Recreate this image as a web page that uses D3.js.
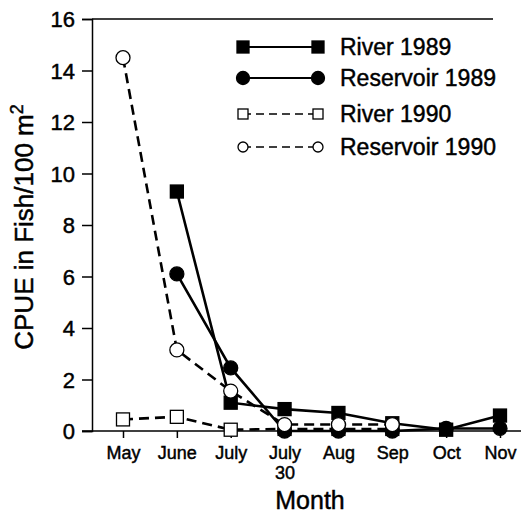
<!DOCTYPE html>
<html>
<head>
<meta charset="utf-8">
<script src="https://cdn.jsdelivr.net/npm/d3@7"></script>
<style>
  body { margin: 0; background: #fff; }
  svg { font-family: "Liberation Sans", Arial, Helvetica, sans-serif; }
  svg text { fill: #000; stroke: #000; stroke-width: 0.45px; }
</style>
</head>
<body>
<div id="chart"></div>
<script>
// Data
const months = ['May', 'June', 'July', 'July 30', 'Aug', 'Sep', 'Oct', 'Nov'];
const yTicks = [0, 2, 4, 6, 8, 10, 12, 14, 16];

const river1989 = [null, 9.3, 1.1, 0.85, 0.7, 0.3, 0.05, 0.6];
const reservoir1989 = [null, 6.1, 2.45, 0.0, 0.0, 0.0, 0.1, 0.1];
const river1990 = [0.45, 0.55, 0.05, 0.08, 0.08, 0.08, null, null];
const reservoir1990 = [14.5, 3.15, 1.55, 0.25, 0.25, 0.25, null, null];

// drawing order: open circles end up on top
const series = [
    { name: 'River 1990', values: river1990, shape: 'square', filled: false, dashed: true },
    { name: 'Reservoir 1989', values: reservoir1989, shape: 'circle', filled: true, dashed: false },
    { name: 'River 1989', values: river1989, shape: 'square', filled: true, dashed: false },
    { name: 'Reservoir 1990', values: reservoir1990, shape: 'circle', filled: false, dashed: true }
];
const legendOrder = ['River 1989', 'Reservoir 1989', 'River 1990', 'Reservoir 1990'];

const width = 521, height = 518;
const margin = { left: 92, top: 19, bottom: 87 };

const svg = d3.select('#chart').append('svg')
    .attr('width', width)
    .attr('height', height);

const x = d3.scalePoint()
    .domain(months)
    .range([123, 500]);

const y = d3.scaleLinear()
    .domain([0, 16])
    .range([height - margin.bottom, margin.top]);

// top frame line
svg.append('line')
    .attr('x1', margin.left).attr('x2', 493)
    .attr('y1', y(16)).attr('y2', y(16))
    .attr('stroke', '#000').attr('stroke-width', 1.5);

const yAxis = d3.axisLeft(y).tickValues(yTicks).tickSize(10).tickPadding(7);
const gy = svg.append('g')
    .attr('transform', 'translate(' + margin.left + ',0)')
    .call(yAxis);
gy.select('.domain').attr('stroke-width', 1.5);
gy.selectAll('.tick line').attr('stroke-width', 1.5);
gy.selectAll('.tick text')
    .attr('font-size', 22)
    .attr('dy', '0.36em');

const xAxis = d3.axisBottom(x).tickSize(7).tickSizeOuter(0);
const gx = svg.append('g')
    .attr('transform', 'translate(0,' + y(0) + ')')
    .call(xAxis);
gx.select('.domain').attr('d', 'M' + (margin.left - 10) + ',0H' + width).attr('stroke-width', 1.5);
gx.selectAll('.tick line').attr('stroke-width', 1.5);
gx.selectAll('.tick text').remove();
gx.selectAll('.tick').each(function(d) {
    const parts = d.split(' ');
    const t = d3.select(this).append('text')
        .attr('font-size', 18)
        .attr('text-anchor', 'middle')
        .attr('y', 28);
    parts.forEach((p, i) => {
        t.append('tspan').attr('x', 0).attr('dy', i === 0 ? 0 : 20).text(p);
    });
});

// axis titles
svg.append('text')
    .attr('transform', 'translate(33,' + 227 + ') rotate(-90)')
    .attr('text-anchor', 'middle')
    .attr('font-size', 26)
    .html('CPUE in Fish/100 m<tspan dy="-10" font-size="18">2</tspan>');

svg.append('text')
    .attr('x', 310).attr('y', 509)
    .attr('text-anchor', 'middle')
    .attr('font-size', 25)
    .text('Month');

function drawMarker(g, shape, filled, cx, cy, size) {
    if (shape === 'square') {
        g.append('rect')
            .attr('x', cx - size / 2).attr('y', cy - size / 2)
            .attr('width', size).attr('height', size)
            .attr('fill', filled ? '#000' : '#fff')
            .attr('stroke', '#000').attr('stroke-width', 1.3);
    } else {
        g.append('circle')
            .attr('cx', cx).attr('cy', cy).attr('r', size / 2)
            .attr('fill', filled ? '#000' : '#fff')
            .attr('stroke', '#000').attr('stroke-width', 1.3);
    }
}

const line = d3.line()
    .defined(d => d.v !== null)
    .x(d => x(d.m))
    .y(d => y(d.v));

const plot = svg.append('g');
series.forEach(s => {
    const pts = months.map((m, i) => ({ m: m, v: s.values[i] }));
    plot.append('path')
        .datum(pts)
        .attr('d', line)
        .attr('fill', 'none')
        .attr('stroke', '#000')
        .attr('stroke-width', 2.6)
        .attr('stroke-dasharray', s.dashed ? '10,6' : null);
});
series.forEach(s => {
    const g = plot.append('g');
    months.forEach((m, i) => {
        if (s.values[i] === null) return;
        let size = s.shape === 'square' ? 13 : 14;
        drawMarker(g, s.shape, s.filled, x(m), y(s.values[i]), size);
    });
});

// legend
const legend = svg.append('g');
const legendY = [47, 78, 114, 147];
legendOrder.forEach((name, i) => {
    const s = series.find(d => d.name === name);
    const ly = legendY[i];
    legend.append('line')
        .attr('x1', 243).attr('x2', 318)
        .attr('y1', ly).attr('y2', ly)
        .attr('stroke', '#000')
        .attr('stroke-width', s.dashed ? 1.6 : 2.2)
        .attr('stroke-dasharray', s.dashed ? '8,5' : null);
    const sz = s.filled ? (s.shape === 'square' ? 12 : 13) : 10;
    drawMarker(legend, s.shape, s.filled, 243, ly, sz);
    drawMarker(legend, s.shape, s.filled, 318, ly, sz);
    legend.append('text')
        .attr('x', 340).attr('y', ly)
        .attr('dy', '0.36em')
        .attr('font-size', 23)
        .text(name);
});
</script>
</body>
</html>
